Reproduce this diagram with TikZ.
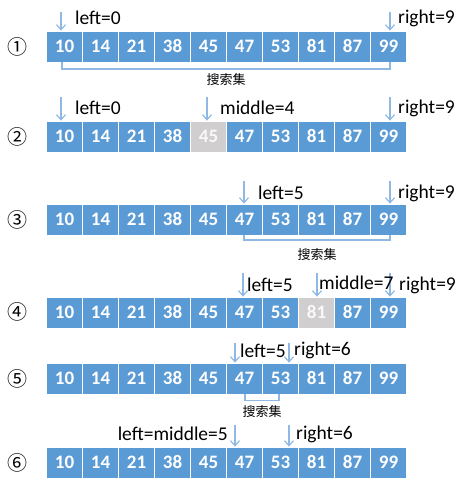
\documentclass[tikz,border=0pt]{standalone}
\usepackage{fontspec}
\setmainfont{Carlito}
\newfontfamily\cellfont{Carlito-Bold.ttf}
\newfontfamily\cjk{Noto Sans CJK SC}
\usetikzlibrary{arrows.meta}
\definecolor{cellblue}{HTML}{5B9BD5}
\definecolor{ptrblue}{HTML}{8FB8E4}
\definecolor{cellgray}{HTML}{D0CECE}
\tikzset{
  cellbox/.style={rectangle, fill=cellblue, draw=white, line width=0.8pt, minimum width=36pt, minimum height=31pt, inner sep=0pt, text=white, font=\cellfont\fontsize{19}{19}\selectfont},
  graycell/.style={cellbox, fill=cellgray, text=white!95!gray},
  ptr/.style={draw=ptrblue, line width=1.2pt, -{Straight Barb[length=5pt,width=9pt]}},
  brk/.style={draw=ptrblue, line width=1.2pt},
  lbl/.style={inner sep=0pt, font=\fontsize{19.5}{19.5}\selectfont, text=black},
  setlbl/.style={inner sep=0pt, font=\cjk\fontsize{13}{13}\selectfont},
  circ/.style={inner sep=0pt, font=\cjk\fontsize{20}{20}\selectfont}
}
\begin{document}
\begin{tikzpicture}[x=1pt,y=-1pt]
\useasboundingbox (0,0) rectangle (469,491);
% rows
\def\vals{10,14,21,38,45,47,53,81,87,99}
\foreach \r/\top/\g in {1/31/-1, 2/121/4, 3/204/-1, 4/297/7, 5/363/-1, 6/447/-1}{
  \foreach \v [count=\i from 0] in \vals {
    \ifnum\i=\g
      \node[graycell] (r\r c\i) at (64.5+36*\i, \top+15.5) {\v};
    \else
      \node[cellbox] (r\r c\i) at (64.5+36*\i, \top+15.5) {\v};
    \fi
  }
}
% circled numbers
\node[circ] (n1) at (18,46.5) {①};
\node[circ] (n2) at (18,136.5) {②};
\node[circ] (n3) at (18,220) {③};
\node[circ] (n4) at (18,312) {④};
\node[circ] (n5) at (18,379) {⑤};
\node[circ] (n6) at (18,463) {⑥};

% row 1
\coordinate (p1l) at ([xshift=-3.5pt,yshift=19pt]r1c0.north);
\coordinate (p1r) at ([xshift=1.5pt,yshift=19pt]r1c9.north);
\draw[ptr] (p1l) -- (p1l |- r1c0.north);
\draw[ptr] (p1r) -- (p1r |- r1c9.north);
\node[lbl, anchor=west] (l1l) at (75,18) {left=0};
\node[lbl, anchor=west] (l1r) at (398,18) {right=9};
\draw[brk] ([xshift=-2.5pt]r1c0.south) -- ++(0,6.5) -| ([xshift=1.5pt]r1c9.south);
\node[setlbl] (s1) at (226,80) {搜索集};

% row 2
\coordinate (p2l) at ([xshift=-3.5pt,yshift=24pt]r2c0.north);
\coordinate (p2m) at ([xshift=-1.5pt,yshift=24pt]r2c4.north);
\coordinate (p2r) at ([xshift=1.5pt,yshift=24pt]r2c9.north);
\draw[ptr] (p2l) -- (p2l |- r2c0.north);
\draw[ptr] (p2m) -- (p2m |- r2c4.north);
\draw[ptr] (p2r) -- (p2r |- r2c9.north);
\node[lbl, anchor=west] (l2l) at (75,108) {left=0};
\node[lbl, anchor=west] (l2m) at (220,108) {middle=4};
\node[lbl, anchor=west] (l2r) at (398,108) {right=9};

% row 3
\coordinate (p3l) at ([xshift=-0.5pt,yshift=23pt]r3c5.north);
\coordinate (p3r) at ([xshift=1.5pt,yshift=23pt]r3c9.north);
\draw[ptr] (p3l) -- (p3l |- r3c5.north);
\draw[ptr] (p3r) -- (p3r |- r3c9.north);
\node[lbl, anchor=west] (l3l) at (258,193) {left=5};
\node[lbl, anchor=west] (l3r) at (398,193) {right=9};
\draw[brk] ([xshift=-0.5pt]r3c5.south) -- ++(0,4.5) -| ([xshift=1.5pt]r3c9.south);
\node[setlbl] (s3) at (317,255) {搜索集};

% row 4
\coordinate (p4l) at ([xshift=-1.5pt,yshift=24pt]r4c5.north);
\coordinate (p4m) at ([xshift=0.5pt,yshift=24pt]r4c7.north);
\coordinate (p4r) at ([xshift=1.5pt,yshift=24pt]r4c9.north);
\draw[ptr] (p4l) -- (p4l |- r4c5.north);
\draw[ptr] (p4m) -- (p4m |- r4c7.north);
\draw[ptr] (p4r) -- (p4r |- r4c9.north);
\node[lbl, anchor=west] (l4l) at (247,285) {left=5};
\node[lbl, anchor=west] (l4m) at (319,283) {middle=7};
\node[lbl, anchor=west] (l4r) at (399,285) {right=9};

% row 5
\coordinate (p5l) at ([xshift=-9.5pt,yshift=20pt]r5c5.north);
\coordinate (p5r) at ([xshift=8.5pt,yshift=20pt]r5c6.north);
\draw[ptr] (p5l) -- (p5l |- r5c5.north);
\draw[ptr] (p5r) -- (p5r |- r5c6.north);
\node[lbl, anchor=west] (l5l) at (240,351) {left=5};
\node[lbl, anchor=west] (l5r) at (294,350) {right=6};
\draw[brk] ([xshift=0.5pt]r5c5.south) -- ++(0,6) -| ([xshift=-1.5pt]r5c6.south);
\node[setlbl] (s5) at (262,412) {搜索集};

% row 6
\coordinate (p6l) at ([xshift=-9.5pt,yshift=22pt]r6c5.north);
\coordinate (p6r) at ([xshift=8.5pt,yshift=22pt]r6c6.north);
\draw[ptr] (p6l) -- (p6l |- r6c5.north);
\draw[ptr] (p6r) -- (p6r |- r6c6.north);
\node[lbl, anchor=east] (l6l) at (228,434) {left=middle=5};
\node[lbl, anchor=west] (l6r) at (296,434) {right=6};
\end{tikzpicture}
\end{document}
